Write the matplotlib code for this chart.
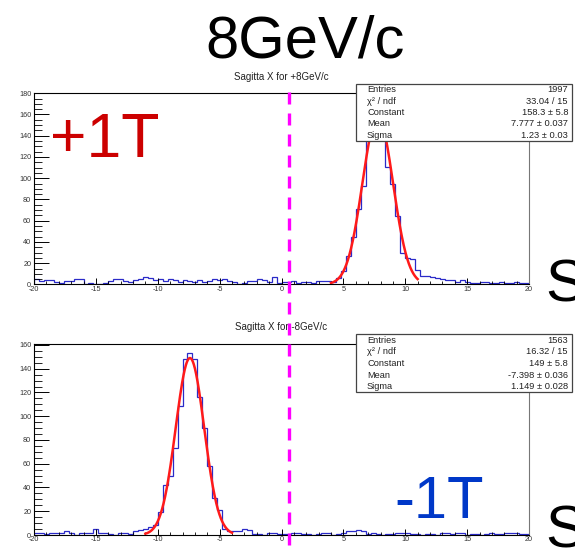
import numpy as np
import matplotlib
matplotlib.use("Agg")
import matplotlib.pyplot as plt
from matplotlib.patches import Rectangle
from matplotlib.lines import Line2D

plt.rcParams['font.family'] = ['Liberation Sans', 'DejaVu Sans']
plt.rcParams['axes.unicode_minus'] = False

# binning: 100 bins from -20 to 20
x_min, x_max, n_bins = -20, 20, 100

# +8 GeV/c, +1T
top_counts = [5, 3, 4, 4, 2, 1, 3, 3, 5, 5,
              0, 1, 0, 0, 1, 3, 5, 5, 3, 2,
              4, 5, 7, 6, 4, 5, 3, 5, 4, 2,
              4, 3, 2, 4, 2, 3, 5, 4, 5, 3,
              2, 0, 1, 3, 3, 5, 4, 2, 7, 1,
              2, 2, 3, 1, 2, 2, 1, 3, 3, 3,
              2, 6, 13, 27, 45, 71, 93, 140, 155, 165,
              148, 111, 95, 64, 30, 25, 24, 14, 8, 8,
              7, 6, 5, 4, 4, 2, 4, 2, 1, 1,
              2, 2, 1, 1, 2, 1, 1, 2, 1, 1]

# -8 GeV/c, -1T
bot_counts = [2, 2, 1, 2, 2, 2, 3, 2, 0, 2,
              2, 2, 5, 2, 2, 1, 0, 2, 2, 1,
              3, 4, 5, 7, 8, 19, 42, 50, 73, 109,
              148, 153, 148, 116, 90, 58, 31, 21, 5, 3,
              3, 3, 5, 4, 1, 1, 0, 2, 2, 1,
              1, 1, 2, 2, 1, 1, 0, 1, 2, 2,
              0, 1, 2, 3, 3, 4, 3, 1, 2, 1,
              0, 1, 1, 2, 2, 2, 1, 1, 0, 1,
              1, 0, 2, 2, 1, 2, 2, 0, 1, 1,
              0, 1, 2, 1, 1, 2, 2, 2, 1, 1]

# gaussian fit results (from the stat boxes)
top_fit = dict(const=158.3, mean=7.777, sigma=1.23, lo=4.0, hi=11.0)
bot_fit = dict(const=149.0, mean=-7.398, sigma=1.149, lo=-11.0, hi=-4.0)

top_stats = [("Entries", "1997"), ("χ² / ndf", "33.04 / 15"),
             ("Constant", "158.3 ± 5.8"), ("Mean", "7.777 ± 0.037"),
             ("Sigma", "1.23 ± 0.03")]
bot_stats = [("Entries", "1563"), ("χ² / ndf", "16.32 / 15"),
             ("Constant", "149 ± 5.8"), ("Mean", "-7.398 ± 0.036"),
             ("Sigma", "1.149 ± 0.028")]

W, H = 575, 550


def fx(x):
    return x / W


def fy(y):
    return 1 - y / H


fig = plt.figure(figsize=(W / 100, H / 100), dpi=100)
fig.patch.set_facecolor('white')

edges = np.linspace(x_min, x_max, n_bins + 1)


def draw_panel(rect, counts, fit, ymax, title_y, title):
    ax = fig.add_axes(rect)
    ax.stairs(counts, edges, color='#2a2ac8', lw=0.9)
    xf = np.linspace(fit['lo'], fit['hi'], 300)
    yf = fit['const'] * np.exp(-0.5 * ((xf - fit['mean']) / fit['sigma']) ** 2)
    ax.plot(xf, yf, color='#ff1a1a', lw=1.8)
    ax.set_xlim(x_min, x_max)
    ax.set_ylim(0, ymax)
    ax.set_xticks(np.arange(-20, 21, 5))
    ax.set_xticks(np.arange(-20, 21, 1), minor=True)
    ax.set_yticks(np.arange(0, ymax, 20))
    ax.set_yticks(np.arange(0, ymax, 5), minor=True)
    ax.tick_params(axis='x', which='major', direction='in', length=4.2,
                   width=0.7, labelsize=5.2, pad=1, labelcolor='#333333')
    ax.tick_params(axis='x', which='minor', direction='in', length=2.1, width=0.6)
    ax.tick_params(axis='y', which='major', direction='in', length=10.8,
                   width=0.7, labelsize=5.2, pad=2, labelcolor='#333333')
    ax.tick_params(axis='y', which='minor', direction='in', length=5.4, width=0.6)
    for s in ['left', 'bottom', 'top']:
        ax.spines[s].set_color('black')
        ax.spines[s].set_linewidth(0.8)
    ax.spines['right'].set_color('#777777')
    ax.spines['right'].set_linewidth(0.8)
    fig.text(fx(281.5), fy(title_y), title, ha='center', va='center',
             fontsize=7, color='#222222')
    return ax


ax_top = draw_panel([fx(34), fy(284.5), fx(529) - fx(34), fy(92.5) - fy(284.5)],
                    top_counts, top_fit, 180.7, 76.5, "Sagitta X for +8GeV/c")
ax_bot = draw_panel([fx(34), fy(535), fx(529) - fx(34), fy(344) - fy(535)],
                    bot_counts, bot_fit, 160.8, 326.5, "Sagitta X for -8GeV/c")


def stat_box(top, bottom, rows, row_y):
    box = Rectangle((fx(356), fy(bottom)), fx(572) - fx(356), fy(top) - fy(bottom),
                    transform=fig.transFigure, facecolor='white',
                    edgecolor='#444444', lw=0.9, zorder=5)
    fig.add_artist(box)
    for (lab, val), y in zip(rows, row_y):
        fig.text(fx(367), fy(y), lab, ha='left', va='center', fontsize=6.7,
                 color='#222222', zorder=6)
        fig.text(fx(568), fy(y), val, ha='right', va='center', fontsize=6.7,
                 color='#222222', zorder=6)


stat_box(84, 141, top_stats, [90, 101, 112.5, 124, 135])
stat_box(334, 392, bot_stats, [340.5, 351.5, 363, 375, 386.5])

# magenta dashed marker line across both panels
fig.add_artist(Line2D([fx(289), fx(289)], [fy(92), fy(549)],
                      transform=fig.transFigure, color='#ff00ff', lw=2.4,
                      linestyle=(0, (3.6, 2.7)), zorder=4))

fig.text(fx(305), fy(58), "8GeV/c", ha='center', va='baseline', fontsize=43)
fig.text(fx(50), fy(157), "+1T", ha='left', va='baseline', fontsize=45,
         color='#cc0000')
fig.text(fx(394), fy(518), "-1T", ha='left', va='baseline', fontsize=43,
         color='#0038c8')
fig.text(fx(545), fy(302), "S", ha='left', va='baseline', fontsize=43)
fig.text(fx(545), fy(548), "S", ha='left', va='baseline', fontsize=43)

fig.savefig("out.png", dpi=100)
